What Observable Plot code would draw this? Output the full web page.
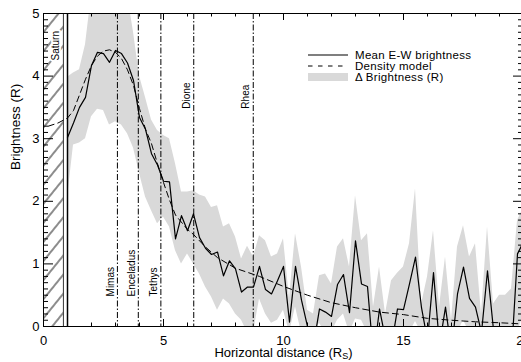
<!DOCTYPE html>
<html><head><meta charset="utf-8">
<script src="https://cdn.jsdelivr.net/npm/d3@7"></script>
<script src="https://cdn.jsdelivr.net/npm/@observablehq/plot@0.6"></script>
<style>
html,body{margin:0;padding:0;background:#fff;overflow:hidden;width:521px;height:362px}
#chart svg{max-width:none !important;display:block}
</style></head><body>
<div id="chart"></div>
<script>
// ---- data ----
const distance = [1.0,1.25,1.5,1.75,2.0,2.25,2.5,2.75,3.0,3.25,3.5,3.75,4.0,4.25,4.5,4.75,5.0,5.25,5.5,5.75,6.0,6.25,6.5,6.75,7.0,7.25,7.5,7.75,8.0,8.25,8.5,8.75,9.0,9.25,9.5,9.75,10.0,10.25,10.5,10.75,11.0,11.25,11.5,11.75,12.0,12.25,12.5,12.75,13.0,13.25,13.5,13.75,14.0,14.25,14.5,14.75,15.0,15.25,15.5,15.75,16.0,16.25,16.5,16.75,17.0,17.25,17.5,17.75,18.0,18.25,18.5,18.75,19.0,19.25,19.5,19.75,20.0];
const meanBrightness = [3.02,3.25,3.5,3.66,4.17,4.38,4.36,4.22,4.41,4.36,4.21,3.93,3.34,3.15,2.76,2.58,2.32,2.31,1.4,1.77,1.53,1.8,1.42,1.25,1.15,1.19,0.81,1.05,0.92,0.55,0.63,0.63,0.96,0.59,0.52,0.73,0.96,0.07,0.96,0.42,0.0,-0.3,0.28,0.23,0.16,0.67,0.83,0.22,1.37,0.68,0.64,-0.5,0.28,-0.2,-0.3,0.28,0.27,0.68,1.11,0.3,-0.22,0.86,-0.3,0.31,-0.4,0.52,0.95,0.45,0.31,-0.1,0.89,-0.05,-0.3,-0.3,-0.45,1.16,1.35];
const deltaLow = [2.05,2.9,2.93,3.0,3.35,3.47,3.45,3.22,3.27,3.22,3.08,2.85,2.45,2.07,1.85,1.64,1.75,1.59,1.21,1.0,1.16,1.0,0.84,0.63,0.47,0.26,0.44,0.36,0.2,0.1,-0.1,-0.1,0.44,0.2,0.05,0.1,0.26,-0.1,0.31,-0.1,-0.1,-0.1,0.05,-0.1,-0.1,0.1,0.2,-0.1,0.12,0.1,-0.1,-0.1,-0.1,-0.1,-0.1,-0.1,-0.1,-0.1,0.08,-0.1,-0.1,-0.1,-0.1,-0.1,-0.1,-0.1,0.1,-0.1,-0.1,-0.1,-0.1,-0.1,-0.1,-0.1,-0.1,-0.1,0.2];
const deltaHigh = [3.98,4.05,4.1,4.5,5.3,5.3,5.3,5.3,5.3,5.3,5.3,4.7,4.0,3.66,3.3,3.13,3.05,3.0,2.6,2.15,2.15,2.17,2.1,2.07,1.9,1.93,1.59,1.64,1.43,1.08,1.28,1.11,1.45,1.37,1.11,1.16,1.4,0.45,1.48,0.95,0.26,0.2,0.81,0.84,0.68,1.27,1.4,0.95,2.09,1.37,1.48,0.31,0.95,0.2,0.73,0.85,0.95,1.32,2.2,0.35,0.79,1.53,0.31,1.11,0.1,1.27,1.61,1.11,1.32,0.2,1.59,0.36,0.5,0.5,0.6,1.69,1.9];
const modelDistance = [0.2,0.6,1.0,1.25,1.5,1.75,2.0,2.25,2.5,2.75,3.0,3.25,3.5,3.75,4.0,4.25,4.5,4.75,5.0,5.25,5.5,6.0,6.25,6.75,7.25,8.0,9.0,10.0,11.0,12.0,13.0,14.0,15.0,16.0,17.0,18.0,19.0,20.0];
const modelBrightness = [3.2,3.25,3.33,3.45,3.7,3.95,4.17,4.32,4.4,4.42,4.38,4.28,4.1,3.85,3.48,3.15,2.92,2.6,2.3,2.02,1.78,1.55,1.47,1.27,1.1,0.93,0.8,0.64,0.5,0.38,0.3,0.23,0.19,0.13,0.1,0.075,0.06,0.04];
const moonNames = ["Mimas","Enceladus","Tethys","Dione","Rhea"];
const moonDistance = [3.08,3.95,4.89,6.26,8.74];
const moonLabelY = [0.48,0.48,0.48,3.48,3.48];
const saturnRegion = [0, 0.83];
const saturnRadius = [1];
const saturnLabel = {text: "Saturn", x: 0.5, y: 4.25};
const xTickLabels = [0,5,10,15,20];
const yTickLabels = [0,1,2,3,4,5];
const xTitle = "Horizontal distance (R";
const xTitleSub = "S";
const yTitle = "Brightness (R)";
const legendLabels = ["Mean E-W brightness","Density model","\u0394 Brightness (R)"];

// ---- derived tables ----
const meanData = distance.map((x,i)=>({x, y: meanBrightness[i]}));
const bandData = distance.map((x,i)=>({x, lo: deltaLow[i], hi: deltaHigh[i]}));
const modelData = modelDistance.map((x,i)=>({x, y: modelBrightness[i]}));
const moons = moonNames.map((name,i)=>({name, x: moonDistance[i], ly: moonLabelY[i]}));
const xMinor = d3.range(1,20).filter(v=>v%5!==0);
const xMajor = [5,10,15];
const yMinor = d3.range(1,50).filter(v=>v%10!==0).map(v=>v/10);
const yMajor = [1,2,3,4];

const W=530,H=362,mL=43,mR=7,mT=13,mB=36;
const innerW=W-mL-mR, innerH=H-mT-mB;
const FONT="'Liberation Sans', Arial, Helvetica, sans-serif";
const GRAY="#d9d9d9";

const svg = Plot.plot({
  width:W, height:H, marginLeft:mL, marginRight:mR, marginTop:mT, marginBottom:mB,
  style:{fontFamily:FONT, fontSize:"13px", background:"white", color:"black", overflow:"visible", maxWidth:"none"},
  x:{domain:[0,20]},
  y:{domain:[0,5]},
  marks:[
    Plot.areaY(bandData,{x:"x",y1:"lo",y2:"hi",fill:GRAY,clip:true}),
    Plot.rect([saturnRegion],{x1:d=>d[0],x2:d=>d[1],y1:0,y2:5,fill:"url(#saturn-hatch)"}),
    Plot.ruleX([saturnRegion[1]],{x:d=>d,stroke:"black",strokeWidth:0.8}),
    Plot.ruleX(saturnRadius,{x:d=>d,stroke:"black",strokeWidth:1.5}),
    Plot.ruleX(moons,{x:"x",stroke:"black",strokeWidth:1,strokeDasharray:"6,2,1.5,2"}),
    Plot.line(modelData,{x:"x",y:"y",stroke:"black",strokeWidth:1,strokeDasharray:"6,4",clip:true}),
    Plot.line(meanData,{x:"x",y:"y",stroke:"black",strokeWidth:1.2,clip:true}),
    Plot.text(moons,{x:"x",y:"ly",text:"name",rotate:-90,textAnchor:"start",dx:-7,fontSize:10,fill:"black"}),
    Plot.text([saturnLabel],{x:"x",y:"y",text:"text",rotate:-90,textAnchor:"start",fontSize:10,fill:"black",stroke:"white",strokeWidth:4}),
    Plot.frame({stroke:"black",strokeWidth:1}),
    Plot.tickX(xMinor,{x:d=>d,insetBottom:innerH-3.5,stroke:"black"}),
    Plot.tickX(xMajor,{x:d=>d,insetBottom:innerH-7,stroke:"black"}),
    Plot.tickX(xMinor,{x:d=>d,insetTop:innerH-3.5,stroke:"black"}),
    Plot.tickX(xMajor,{x:d=>d,insetTop:innerH-7,stroke:"black"}),
    Plot.tickY(yMinor,{y:d=>d,insetRight:innerW-5,stroke:"black"}),
    Plot.tickY(yMajor,{y:d=>d,insetRight:innerW-10,stroke:"black"}),
    Plot.tickY(yMinor,{y:d=>d,insetLeft:innerW-5,stroke:"black"}),
    Plot.tickY(yMajor,{y:d=>d,insetLeft:innerW-10,stroke:"black"}),
    Plot.axisX(xTickLabels,{anchor:"bottom",tickSize:0,tickPadding:9,fontSize:13,label:null,tickFormat:d=>String(d)}),
    Plot.axisY(yTickLabels,{anchor:"left",tickSize:0,tickPadding:4,fontSize:13,label:null,tickFormat:d=>String(d)}),
    Plot.text([xTitle],{frameAnchor:"bottom",dy:30,fontSize:13,fill:"black"}),
    Plot.text([yTitle],{frameAnchor:"left",dx:-28,rotate:-90,fontSize:13.5,fill:"black"})
  ]
});
svg.style.maxWidth = "none";

// hatch pattern for the Saturn region
const s = d3.select(svg);
const defs = s.insert("defs",":first-child");
const pat = defs.append("pattern").attr("id","saturn-hatch").attr("patternUnits","userSpaceOnUse")
  .attr("width",12).attr("height",12).attr("patternTransform","rotate(39)");
pat.append("rect").attr("width",12).attr("height",12).attr("fill","white");
pat.append("line").attr("x1",6).attr("y1",-1).attr("x2",6).attr("y2",13).attr("stroke","black").attr("stroke-width",0.9);

// subscript in x title
s.selectAll("text").filter(function(){return this.textContent===xTitle;}).each(function(){
  const t=d3.select(this);
  t.append("tspan").attr("font-size",9).attr("dy",2.5).text(xTitleSub);
  t.append("tspan").attr("font-size",13).attr("dy",-2.5).text(")");
});

// legend (inside the plot, top right)
const lg = s.append("g").attr("font-family",FONT).attr("font-size",11.5).attr("fill","black").attr("text-anchor","start");
const lx0=308, lx1=348, ltx=355, rows=[55,66,77];
lg.append("line").attr("x1",lx0).attr("x2",lx1).attr("y1",rows[0]).attr("y2",rows[0]).attr("stroke","black").attr("stroke-width",1.2);
lg.append("line").attr("x1",lx0).attr("x2",lx1).attr("y1",rows[1]).attr("y2",rows[1]).attr("stroke","black").attr("stroke-width",1).attr("stroke-dasharray","4.5,5.5");
lg.append("rect").attr("x",lx0).attr("y",rows[2]-4).attr("width",lx1-lx0).attr("height",8).attr("fill",GRAY);
legendLabels.forEach((t,i)=>{
  lg.append("text").attr("x",ltx).attr("y",rows[i]).attr("dy","0.35em").attr("text-anchor","start").attr("letter-spacing","0.3").text(t);
});

document.getElementById("chart").appendChild(svg);
</script>
</body></html>
